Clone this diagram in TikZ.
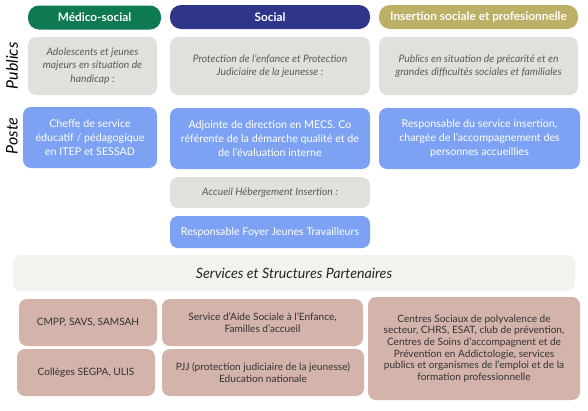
\documentclass[tikz,border=0pt]{standalone}
\usepackage{fontspec}
\setmainfont{Lato}
\definecolor{medgreen}{HTML}{0E7A52}
\definecolor{socnavy}{HTML}{2F3589}
\definecolor{insolive}{HTML}{BCB067}
\definecolor{pubgrey}{HTML}{DFE2DC}
\definecolor{postblue}{HTML}{7EA2F3}
\definecolor{partcream}{HTML}{F3F2EC}
\definecolor{partpink}{HTML}{D3B3AA}
\definecolor{pubtext}{HTML}{5A5A5A}
\begin{document}
\begin{tikzpicture}[x=1pt,y=-1pt,
    box/.style={rounded corners=8pt, inner sep=0pt, align=center},
    head/.style={box, rounded corners=11pt, minimum height=24pt, text=white, font=\fontsize{11.8}{13}\selectfont\bfseries},
    pub/.style={box, fill=pubgrey, text=pubtext, font=\fontsize{10.3}{13.5}\selectfont\itshape},
    post/.style={box, fill=postblue, text=white, font=\fontsize{10.7}{14}\selectfont},
    part/.style={box, fill=partpink, text=black!80, font=\fontsize{10.1}{11.6}\selectfont},
    rowlabel/.style={rotate=90, font=\fontsize{16}{16}\selectfont\itshape}]
    \useasboundingbox (0,0) rectangle (588,410);

    \node [head, fill=medgreen, minimum width=133pt] (med) at (94.5,17.5) {Médico-social};
    \node [head, fill=socnavy, minimum width=200pt] (soc) at (270,17) {Social};
    \node [head, fill=insolive, minimum width=199pt] (ins) at (478.5,17) {Insertion sociale et profesionnelle};

    \node [rowlabel] (publics) at (12,66) {Publics};
    \node [pub, minimum width=129pt, minimum height=58pt] (pubmed) at (92.5,66) {Adolescents et jeunes\\majeurs en situation de\\handicap :};
    \node [pub, minimum width=200pt, minimum height=58pt] (pubsoc) at (270,66) {Protection de l'enfance et Protection\\Judiciaire de la jeunesse :};
    \node [pub, minimum width=199pt, minimum height=58pt] (pubins) at (478.5,66) {Publics en situation de précarité et en\\grandes difficultés sociales et familiales};

    \node [rowlabel] (poste) at (12,136) {Poste};
    \node [post, minimum width=134pt, minimum height=61pt] (postmed) at (90,137.5) {Cheffe de service\\éducatif / pédagogique\\en ITEP et SESSAD};
    \node [post, minimum width=200pt, minimum height=61pt] (postsoc) at (270,138.5) {Adjointe de direction en MECS. Co\\référente de la démarche qualité et de\\de l'évaluation interne};
    \node [post, minimum width=201pt, minimum height=61pt] (postins) at (479.5,138.5) {Responsable du service insertion,\\chargée de l'accompagnement des\\personnes accueillies};

    \node [pub, minimum width=200pt, minimum height=31pt] (accueil) at (270,192.5) {Accueil Hébergement Insertion :};
    \node [post, minimum width=200pt, minimum height=32pt] (foyer) at (270,232) {Responsable Foyer Jeunes Travailleurs};

    \node [box, fill=partcream, minimum width=562pt, minimum height=36pt, font=\fontsize{14.2}{16}\selectfont\itshape, text=black!85] (partenaires) at (294,273) {Services et Structures Partenaires};
    \node [part, minimum width=138pt, minimum height=47pt] (cmpp) at (88,322.5) {CMPP, SAVS, SAMSAH};
    \node [part, minimum width=201pt, minimum height=47pt] (ase) at (262.5,322.5) {Service d'Aide Sociale à l'Enfance,\\Familles d'accueil};
    \node [part, minimum width=212pt, minimum height=103pt] (centres) at (474,348.5) {Centres Sociaux de polyvalence de\\secteur, CHRS, ESAT, club de prévention,\\Centres de Soins d'accompagnent et de\\Prévention en Addictologie, services\\publics et organismes de l'emploi et de la\\formation professionnelle};
    \node [part, minimum width=138pt, minimum height=47pt] (colleges) at (86,372.5) {Collèges SEGPA, ULIS};
    \node [part, minimum width=202pt, minimum height=47pt] (pjj) at (263,372.5) {PJJ (protection judiciaire de la jeunesse)\\Education nationale};
\end{tikzpicture}
\end{document}
